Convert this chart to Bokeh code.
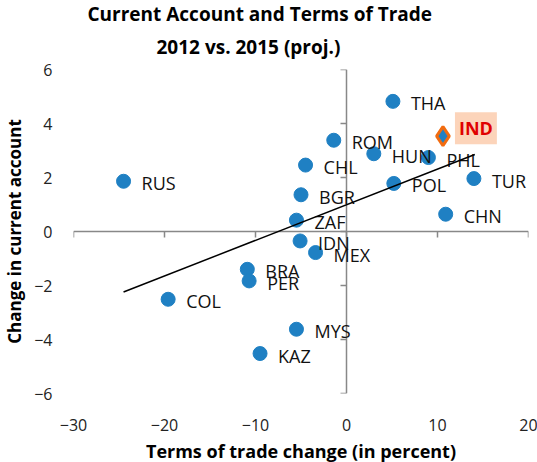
import math
from bokeh.plotting import figure
from bokeh.models import FixedTicker, Title, Label, ColumnDataSource
from bokeh.core.properties import value
from bokeh.embed import file_html
from bokeh.resources import INLINE

FONT = "Open Sans"

countries = ["RUS", "THA", "ROM", "HUN", "PHL", "CHL", "TUR", "POL", "BGR", "CHN",
             "ZAF", "IDN", "MEX", "BRA", "PER", "COL", "MYS", "KAZ"]
tot_change = [-24.5, 5.1, -1.4, 3.0, 9.0, -4.5, 14.0, 5.2, -5.0, 10.9,
              -5.5, -5.1, -3.4, -10.9, -10.7, -19.6, -5.5, -9.5]
ca_change = [1.86, 4.82, 3.38, 2.88, 2.74, 2.46, 1.96, 1.78, 1.36, 0.64,
             0.42, -0.35, -0.78, -1.40, -1.83, -2.51, -3.62, -4.52]

ind_label = ["IND"]
ind_x = [10.6]
ind_y = [3.53]

trend_x = [-24.5, 14.1]
trend_y = [-2.24, 2.85]

x_ticks = [-30, -20, -10, 0, 10, 20]
y_ticks = [-6, -4, -2, 0, 2, 4, 6]

p = figure(frame_width=455, frame_height=324, x_range=(-30, 20), y_range=(-6, 6),
           output_backend="svg", toolbar_location=None,
           min_border_left=64, min_border_right=10, min_border_top=62, min_border_bottom=68)
p.outline_line_color = None
p.grid.visible = False
p.background_fill_color = "white"

# outer axes: labels only
for ax in (p.xaxis[0], p.yaxis[0]):
    ax.axis_line_color = None
    ax.major_tick_line_color = None
    ax.minor_tick_line_color = None
    ax.major_tick_in = 0
    ax.major_tick_out = 0
    ax.major_label_text_font = FONT
    ax.major_label_text_font_size = "16px"
    ax.major_label_text_color = "#222222"
    ax.axis_label_text_font = FONT
    ax.axis_label_text_font_style = "bold"
    ax.axis_label_text_color = "black"
p.xaxis[0].axis_label_text_font_size = "18px"
p.yaxis[0].axis_label_text_font_size = "17px"
p.xaxis[0].ticker = FixedTicker(ticks=x_ticks)
p.yaxis[0].ticker = FixedTicker(ticks=y_ticks)
p.xaxis[0].axis_label = "Terms of trade change (in percent)"
p.yaxis[0].axis_label = "Change in current account"
p.xaxis[0].major_label_standoff = 25
p.yaxis[0].major_label_standoff = 21
p.xaxis[0].axis_label_standoff = 5
p.yaxis[0].axis_label_standoff = 5

# zero-crossing axis lines with tick marks
AXC = "#888888"
p.segment(x0=[min(x_ticks), 0], y0=[0, min(y_ticks)], x1=[max(x_ticks), 0], y1=[0, max(y_ticks)],
          line_color=AXC, line_width=1.5)
p.ray(x=x_ticks, y=[0] * len(x_ticks), length=6, length_units="screen",
      angle=-math.pi / 2, line_color=AXC, line_width=1.5)
p.ray(x=[0] * len(y_ticks), y=y_ticks, length=6, length_units="screen",
      angle=math.pi, line_color=AXC, line_width=1.5)

src = ColumnDataSource(dict(x=tot_change, y=ca_change, name=countries))
p.scatter("x", "y", source=src, size=14, fill_color="#1f80c3", line_color="#1f80c3")
p.text("x", "y", text="name", source=src, x_offset=18, y_offset=2,
       text_font=value(FONT), text_font_size="18px", text_color="#111111",
       text_baseline="middle", text_align="left")

p.line(trend_x, trend_y, line_color="black", line_width=1.5)

p.scatter(ind_x, ind_y, marker="diamond", size=19, fill_color="#1f80c3",
          line_color="#f26b0f", line_width=3)
p.add_layout(Label(x=ind_x[0], y=ind_y[0], text=ind_label[0], x_offset=12, y_offset=8,
                   text_font=FONT, text_font_style="bold", text_font_size="18px",
                   text_color="#e00000", text_baseline="middle",
                   background_fill_color="#fccfb3", background_fill_alpha=0.9,
                   padding=4))

p.add_layout(Title(text="2012 vs. 2015 (proj.)", align="left", text_font=FONT,
                   standoff=16, offset=83, vertical_align="top",
                   text_font_style="bold", text_font_size="19px", text_color="black"), "above")
p.add_layout(Title(text="Current Account and Terms of Trade", align="left", text_font=FONT,
                   standoff=-3, offset=14,
                   text_font_style="bold", text_font_size="19px", text_color="black"), "above")

open("out.html", "w").write(file_html(p, INLINE))
